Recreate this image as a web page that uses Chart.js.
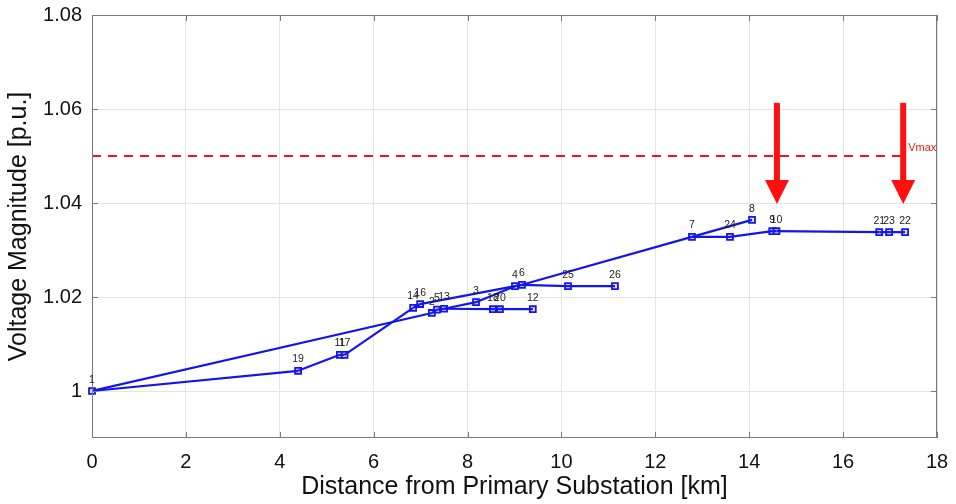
<!DOCTYPE html>
<html>
<head>
<meta charset="utf-8">
<script src="https://cdn.jsdelivr.net/npm/chart.js@4.4.1/dist/chart.umd.min.js"></script>
<style>
  html, body { margin: 0; padding: 0; background: #fff; }
  #wrap { width: 956px; height: 504px; }
</style>
</head>
<body>
<div id="wrap"><canvas id="voltage profile"></canvas></div>
<script>
// node data
var nodeLabels = ['1', '19', '11', '17', '14', '16', '2', '5', '13', '3', '18', '20', '12', '4', '6', '25', '26', '7', '24', '8', '9', '10', '21', '23', '22'];
var distKm = [0, 4.39, 5.28, 5.38, 6.84, 6.99, 7.24, 7.35, 7.50, 8.18, 8.54, 8.69, 9.39, 9.01, 9.16, 10.14, 11.14, 12.78, 13.59, 14.06, 14.49, 14.58, 16.77, 16.98, 17.32];
var voltPu = [1.0000, 1.0043, 1.0077, 1.0077, 1.0177, 1.0185, 1.0166, 1.0173, 1.0175, 1.0189, 1.0174, 1.0174, 1.0174, 1.0223, 1.0226, 1.0223, 1.0223, 1.0328, 1.0328, 1.0364, 1.0340, 1.0340, 1.0338, 1.0338, 1.0338];

// feeder branches (node index pairs)
var edgeFrom = [0, 1, 2, 3, 4, 0, 6, 7, 8, 9, 13, 14, 15, 14, 8, 10, 11, 5, 17, 17, 18, 20, 21, 22, 23];
var edgeTo = [1, 2, 3, 4, 5, 6, 7, 8, 9, 13, 14, 15, 16, 17, 10, 11, 12, 13, 19, 18, 20, 21, 22, 23, 24];

var xTicks = [0, 2, 4, 6, 8, 10, 12, 14, 16, 18];
var yTicks = [1, 1.02, 1.04, 1.06, 1.08];

var vmaxLevel = 1.05;
var vmaxSpan = [0, 17.3];
var arrowKm = [14.59, 17.28];
var arrowTop = 1.0613;
var arrowTip = 1.0398;

var blue = '#1414ec';
var red = '#ff1010';

var datasets = [];
for (var i = 0; i < edgeFrom.length; i++) {
    datasets.push({
        data: [
            {x: distKm[edgeFrom[i]], y: voltPu[edgeFrom[i]]},
            {x: distKm[edgeTo[i]], y: voltPu[edgeTo[i]]}
        ],
        showLine: true,
        borderColor: blue,
        borderWidth: 2.2,
        pointRadius: 0
    });
}
datasets.push({
    data: vmaxSpan.map(function (d) { return {x: d, y: vmaxLevel}; }),
    showLine: true,
    borderColor: '#e81818',
    borderWidth: 2,
    borderDash: [9, 7],
    pointRadius: 0
});
datasets.push({
    data: distKm.map(function (d, k) { return {x: d, y: voltPu[k]}; }),
    showLine: false,
    clip: false,
    pointStyle: 'rect',
    pointRadius: 4.2,
    pointBorderWidth: 1.8,
    pointBorderColor: blue,
    pointBackgroundColor: 'rgba(220,226,255,0.9)'
});
var nodeSet = datasets.length - 1;

// frame, inward ticks, node labels, Vmax text, red arrows
var extras = {
    id: 'extras',
    afterDatasetsDraw: function (chart) {
        var c = chart.ctx, a = chart.chartArea;
        var xs = chart.scales.x, ys = chart.scales.y;
        c.save();

        c.strokeStyle = '#7a7a7a';
        c.lineWidth = 1;
        c.strokeRect(a.left + 0.5, a.top + 0.5, a.right - a.left - 1, a.bottom - a.top - 1);
        c.beginPath();
        xTicks.forEach(function (t) {
            var px = Math.round(xs.getPixelForValue(t)) + 0.5;
            c.moveTo(px, a.bottom); c.lineTo(px, a.bottom - 6);
            c.moveTo(px, a.top); c.lineTo(px, a.top + 6);
        });
        yTicks.forEach(function (t) {
            var py = Math.round(ys.getPixelForValue(t)) + 0.5;
            c.moveTo(a.left, py); c.lineTo(a.left + 6, py);
            c.moveTo(a.right, py); c.lineTo(a.right - 6, py);
        });
        c.stroke();

        c.fillStyle = '#222';
        c.font = '10.5px "Liberation Sans", Arial, sans-serif';
        c.textAlign = 'center';
        c.textBaseline = 'bottom';
        chart.getDatasetMeta(nodeSet).data.forEach(function (p, k) {
            c.fillText(nodeLabels[k], p.x, p.y - 6);
        });

        c.fillStyle = '#e81818';
        c.textAlign = 'left';
        c.textBaseline = 'middle';
        c.font = '11px "Liberation Sans", Arial, sans-serif';
        c.fillText('Vmax', xs.getPixelForValue(vmaxSpan[1]) + 4, ys.getPixelForValue(vmaxLevel) - 8);

        c.fillStyle = red;
        arrowKm.forEach(function (d) {
            var px = xs.getPixelForValue(d);
            var top = ys.getPixelForValue(arrowTop);
            var tip = ys.getPixelForValue(arrowTip);
            c.fillRect(px - 3, top, 6, tip - top - 20);
            c.beginPath();
            c.moveTo(px - 12, tip - 24);
            c.lineTo(px + 12, tip - 24);
            c.lineTo(px, tip);
            c.closePath();
            c.fill();
        });
        c.restore();
    }
};

var ctx = document.getElementById('voltage profile').getContext('2d');
var myChart = new Chart(ctx, {
    type: 'scatter',
    data: { datasets: datasets },
    options: {
        responsive: true,
        maintainAspectRatio: false,
        animation: false,
        layout: { padding: { top: 15, right: 19, left: 0, bottom: 0 } },
        plugins: { legend: { display: false }, tooltip: { enabled: false } },
        scales: {
            x: {
                type: 'linear',
                min: 0,
                max: 18,
                afterBuildTicks: function (s) { s.ticks = xTicks.map(function (v) { return {value: v}; }); },
                afterFit: function (s) { s.height = 66; s.paddingLeft = 0; s.paddingRight = 0; },
                ticks: { font: { size: 20, family: '"Liberation Sans", Arial, sans-serif' }, color: '#111', padding: 12, maxRotation: 0 },
                grid: { color: '#e4e4e4', drawTicks: false },
                border: { display: false },
                title: { display: true, text: 'Distance from Primary Substation [km]', font: { size: 25, family: '"Liberation Sans", Arial, sans-serif' }, color: '#111', padding: { top: 4, bottom: 2 } }
            },
            y: {
                type: 'linear',
                min: 0.99,
                max: 1.08,
                afterBuildTicks: function (s) { s.ticks = yTicks.map(function (v) { return {value: v}; }); },
                afterFit: function (s) { s.width = 92; s.paddingTop = 0; s.paddingBottom = 0; },
                ticks: {
                    font: { size: 20, family: '"Liberation Sans", Arial, sans-serif' }, color: '#111', padding: 10,
                    callback: function (v) { return v === 1 ? '1' : v.toFixed(2); }
                },
                grid: { color: '#e4e4e4', drawTicks: false },
                border: { display: false },
                title: { display: true, text: 'Voltage Magnitude [p.u.]', font: { size: 25, family: '"Liberation Sans", Arial, sans-serif' }, color: '#111' }
            }
        }
    },
    plugins: [extras]
});
</script>
</body>
</html>
